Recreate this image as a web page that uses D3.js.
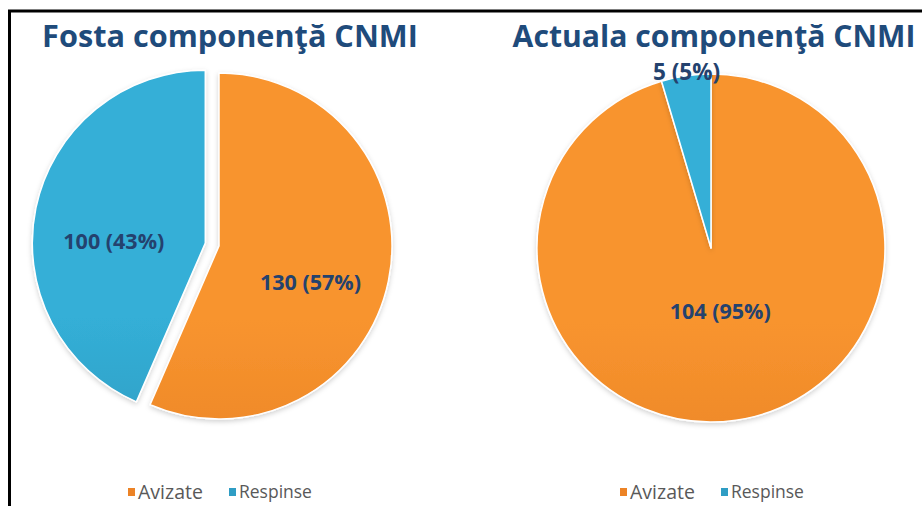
<!DOCTYPE html>
<html>
<head>
<meta charset="utf-8">
<script src="https://cdn.jsdelivr.net/npm/d3@7"></script>
<style>
  html, body { margin: 0; padding: 0; background: #fff; }
  svg { display: block; font-family: "Open Sans", "Noto Sans", sans-serif; }
</style>
</head>
<body>
<svg width="922" height="506"></svg>
<script>
// data
const categories = ["Avizate", "Respinse"];
const fostaValues = [130, 100];
const actualaValues = [104, 5];
const titles = ["Fosta componenţă CNMI", "Actuala componenţă CNMI"];

const colorTop = { Avizate: "#f8942f", Respinse: "#34afd7" };
const colorBottom = { Avizate: "#dc741c", Respinse: "#2886a8" };
const legendColor = { Avizate: "#ec8326", Respinse: "#2f9dc4" };

const svg = d3.select("svg");
const W = 922, H = 506;

// frame
svg.append("rect")
  .attr("x", 9.5).attr("y", 11)
  .attr("width", W + 20).attr("height", H + 20)
  .attr("fill", "none")
  .attr("stroke", "#000")
  .attr("stroke-width", 3);

const defs = svg.append("defs");
const shadow = defs.append("filter").attr("id", "shadow")
  .attr("x", "-10%").attr("y", "-10%").attr("width", "120%").attr("height", "120%");
shadow.append("feDropShadow")
  .attr("dx", 0).attr("dy", 2).attr("stdDeviation", 2.5)
  .attr("flood-color", "#000").attr("flood-opacity", 0.18);

function fitText(sel, target) {
  const w = sel.node().getComputedTextLength();
  const fs = parseFloat(sel.attr("font-size"));
  sel.attr("font-size", fs * target / w);
}

const charts = [
  { values: fostaValues, title: titles[0], cx: 219, cy: 246, r: 173, explode: { Respinse: 14 },
    titleX: 230, titleW: 376, labelR: 0.54, labelDy: 17, legendX: 220, id: "a" },
  { values: actualaValues, title: titles[1], cx: 711, cy: 248, r: 174, explode: {},
    titleX: 714, titleW: 403, labelR: 0.37, labelDy: 0, legendX: 712, id: "b" }
];

const pie = d3.pie().sort(null).value(d => d.value);
const pct = d3.format(".0%");

charts.forEach(c => {
  const data = categories.map((k, i) => ({ key: k, value: c.values[i] }));
  const total = d3.sum(c.values);
  const arcs = pie(data);
  const arc = d3.arc().innerRadius(0).outerRadius(c.r);

  categories.forEach(k => {
    const g = defs.append("linearGradient")
      .attr("id", `grad-${c.id}-${k}`)
      .attr("gradientUnits", "userSpaceOnUse")
      .attr("x1", 0).attr("x2", 0)
      .attr("y1", c.cy - c.r).attr("y2", c.cy + c.r);
    g.append("stop").attr("offset", "0%").attr("stop-color", colorTop[k]);
    g.append("stop").attr("offset", "100%").attr("stop-color", colorBottom[k]);
  });

  const g = svg.append("g").attr("transform", `translate(${c.cx},${c.cy})`);

  const offset = d => {
    const e = c.explode[d.data.key] || 0;
    const a = (d.startAngle + d.endAngle) / 2;
    return [Math.sin(a) * e, -Math.cos(a) * e];
  };
  const isSmall = d => d.endAngle - d.startAngle < 0.4;

  g.selectAll("path.slice")
    .data(arcs)
    .join("path")
    .attr("class", "slice")
    .attr("transform", d => `translate(${offset(d)})`)
    .attr("d", arc)
    .attr("fill", d => `url(#grad-${c.id}-${d.data.key})`)
    .attr("stroke", "#fff")
    .attr("stroke-width", 1.5)
    .attr("stroke-linejoin", "round")
    .attr("filter", "url(#shadow)");

  // small slices get their label at the outer edge
  g.selectAll("text.lbl")
    .data(arcs)
    .join("text")
    .attr("class", "lbl")
    .attr("transform", d => {
      const [ox, oy] = offset(d);
      const a = (d.startAngle + d.endAngle) / 2;
      const rr = isSmall(d) ? c.r - 4 : c.r * c.labelR;
      const dy = isSmall(d) ? 0 : c.labelDy;
      return `translate(${ox + Math.sin(a) * rr},${oy - Math.cos(a) * rr + dy})`;
    })
    .attr("text-anchor", "middle")
    .attr("dy", d => isSmall(d) ? "0" : "0.35em")
    .attr("font-size", 17)
    .attr("font-weight", 700)
    .attr("fill", "#24426e")
    .text(d => `${d.data.value} (${pct(d.data.value / total)})`)
    .each(function () { fitText(d3.select(this), 101 * this.textContent.length / 9); });

  const t = svg.append("text")
    .attr("x", c.titleX).attr("y", 47)
    .attr("text-anchor", "middle")
    .attr("font-size", 30)
    .attr("font-weight", 700)
    .attr("fill", "#1f4b7b")
    .text(c.title);
  fitText(t, c.titleW);

  // legend
  const leg = svg.append("g").attr("transform", `translate(${c.legendX - 92},492)`);
  const items = [{ k: categories[0], x: 0, w: 65 }, { k: categories[1], x: 101, w: 73 }];
  items.forEach(it => {
    leg.append("rect")
      .attr("x", it.x).attr("y", -4)
      .attr("width", 7).attr("height", 8)
      .attr("fill", legendColor[it.k]);
    const lt = leg.append("text")
      .attr("x", it.x + 10).attr("y", 0)
      .attr("dy", "0.35em")
      .attr("font-size", 15)
      .attr("fill", "#595959")
      .text(it.k);
    fitText(lt, it.w);
  });
});
</script>
</body>
</html>
